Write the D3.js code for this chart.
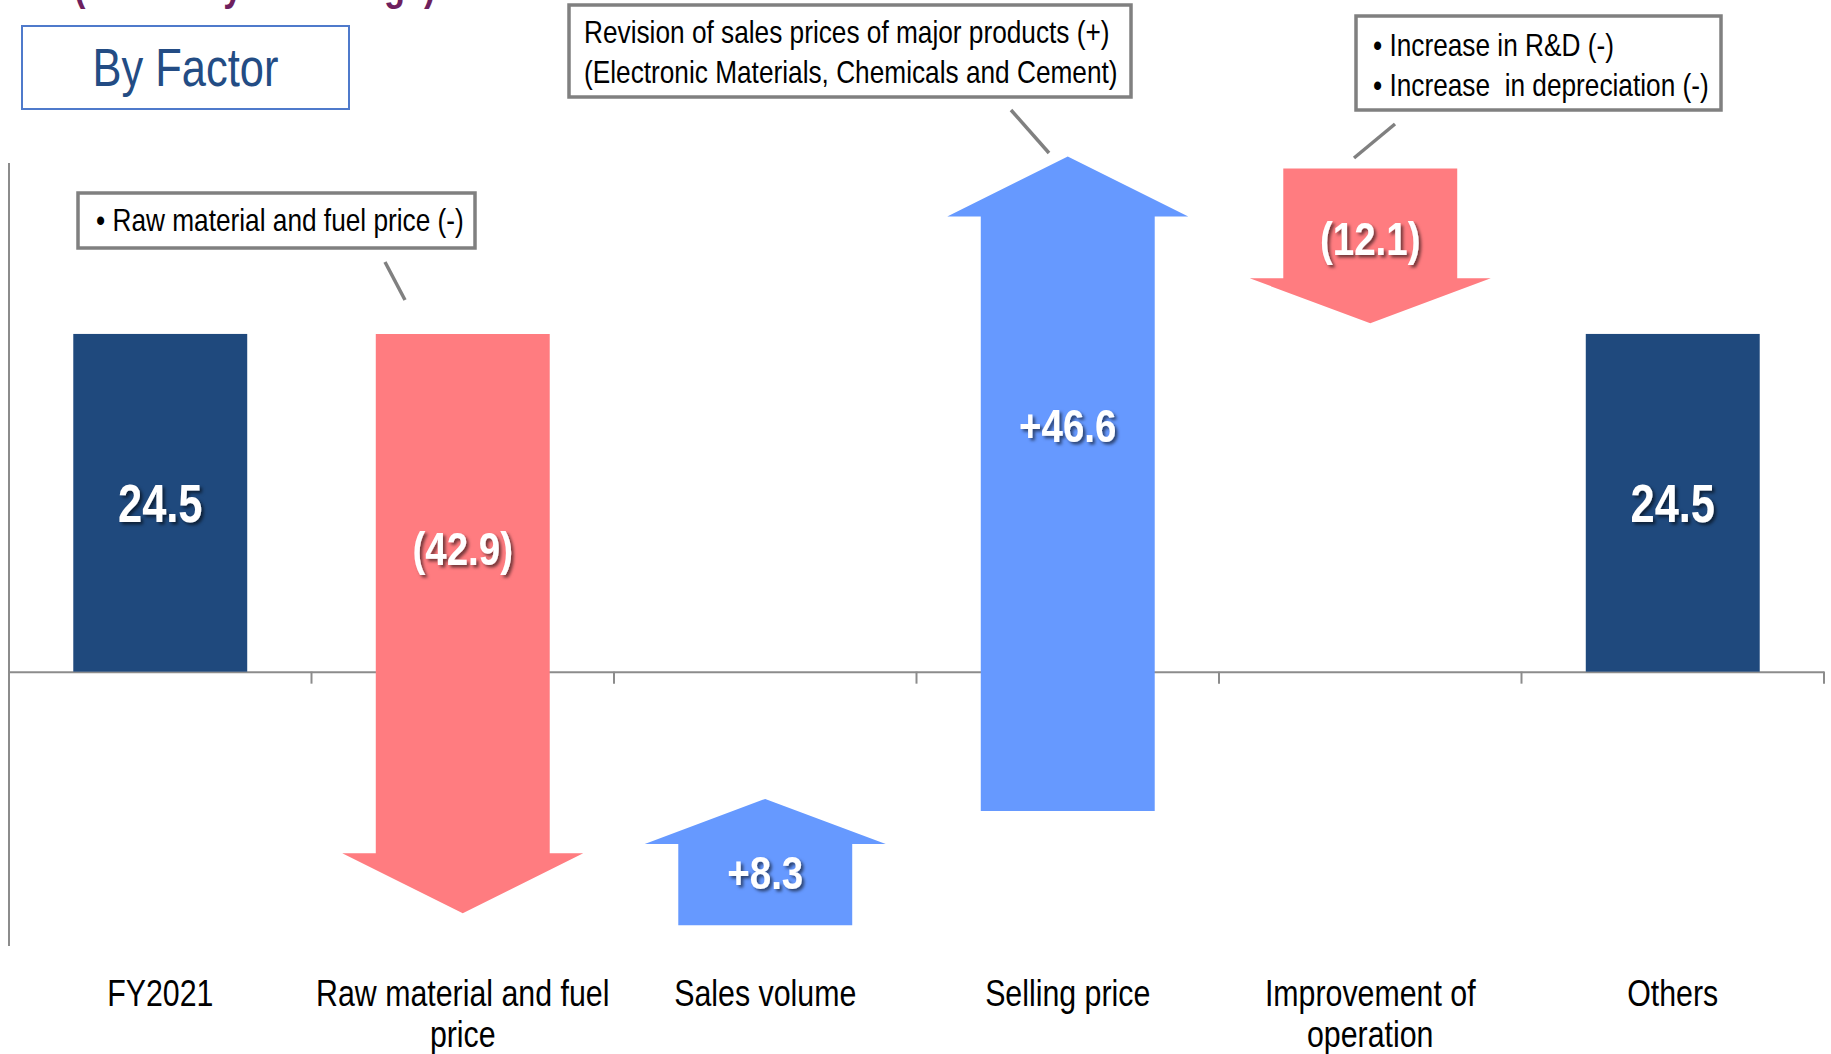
<!DOCTYPE html>
<html>
<head>
<meta charset="utf-8">
<script src="https://cdn.jsdelivr.net/npm/d3@7"></script>
<style>
  html, body { margin: 0; padding: 0; background: #ffffff; }
  svg { display: block; }
  text { white-space: pre; }
</style>
</head>
<body>
<div id="chart"></div>
<script>
// ---------------- DATA ----------------
const categories = ["FY2021", "Raw material and fuel price", "Sales volume", "Selling price", "Improvement of operation", "Others"];
const values = [24.5, -42.9, 8.3, 46.6, -12.1, 24.5];
const kinds = ["total", "delta", "delta", "delta", "delta", "total"];
const valueLabels = ["24.5", "(42.9)", "+8.3", "+46.6", "(12.1)", "24.5"];
const calloutTexts = [
  ["\u2022 Raw material and fuel price (-)"],
  ["Revision of sales prices of major products (+)", "(Electronic Materials, Chemicals and Cement)"],
  ["\u2022 Increase in R&D (-)", "\u2022 Increase  in depreciation (-)"]
];
const panelTitle = "By Factor";
const pageTitleTail = "(Year-on-year change)";

// ---------------- STYLE ----------------
const W = 1831, H = 1054;
const NARROW = 0.82;                  // horizontal condensation (Arial Narrow look)
const FONT = "'Liberation Sans', Arial, sans-serif";
const colNavy = "#1F497D", colUp = "#6699FF", colDown = "#FF7C80";
const axisCol = "#8C8C8C";
const plot = { left: 9, right: 1824, top: 163, bottom: 946 };
const yDomain = [-19.9, 36.9];
const barWidthFrac = 0.575;
const headHalf = 120.5;
const tipOffset = 12;
const labelFrac = [0.5, 0.37, 0.42, 0.59, 0.45, 0.5];
const labelSize = { total: 53, delta: 47 };
const calloutBoxes = [
  { x: 78, y: 193, w: 397, h: 55, tx: 96, ty: [231], line: [385, 262, 405, 300] },
  { x: 569, y: 5, w: 562, h: 92, tx: 584, ty: [43, 83], line: [1011, 110, 1049, 153] },
  { x: 1356, y: 16, w: 365, h: 94, tx: 1373, ty: [56, 96], line: [1395, 124, 1354, 158] }
];

// ---------------- CHART ----------------
const svg = d3.select("#chart").append("svg")
  .attr("width", W).attr("height", H)
  .style("font-family", FONT);

const defs = svg.append("defs");
const f = defs.append("filter").attr("id", "shadow")
  .attr("x", "-20%").attr("y", "-20%").attr("width", "140%").attr("height", "140%");
f.append("feDropShadow").attr("dx", 2.5).attr("dy", 2.5).attr("stdDeviation", 1.6)
  .attr("flood-color", "#000").attr("flood-opacity", 0.55);

const x = d3.scaleBand().domain(categories).range([plot.left, plot.right]).padding(0);
const y = d3.scaleLinear().domain(yDomain).range([plot.bottom, plot.top]);

// running waterfall values
let cum = 0;
const items = categories.map((c, i) => {
  let start, end;
  if (kinds[i] === "total") { start = 0; end = values[i]; cum = values[i]; }
  else { start = cum; end = cum + values[i]; cum = end; }
  return { cat: c, i, kind: kinds[i], v: values[i], start, end, label: valueLabels[i] };
});

// narrow text helper
function ntext(g, tx, ty, str, size, anchor, weight, fill) {
  return g.append("text")
    .attr("transform", `translate(${tx},${ty}) scale(${NARROW},1)`)
    .attr("text-anchor", anchor || "start")
    .attr("font-size", size)
    .attr("font-weight", weight || "normal")
    .attr("fill", fill || "#000")
    .text(str);
}

// cut-off page title (only its lower edge is visible)
ntext(svg, 74, 0, pageTitleTail, 42, "start", "bold", "#6E1F5E");

// axes
const axisG = svg.append("g");
axisG.append("line")
  .attr("x1", plot.left).attr("x2", plot.left)
  .attr("y1", plot.top).attr("y2", plot.bottom)
  .attr("stroke", axisCol).attr("stroke-width", 2);
const xAxis = d3.axisBottom(x).tickSize(0).tickFormat("");
const xg = svg.append("g").attr("transform", `translate(0,${y(0)})`).call(xAxis);
xg.select(".domain").attr("stroke", axisCol).attr("stroke-width", 2);
// category boundary ticks
const bounds = categories.map(c => x(c) + x.bandwidth());
xg.selectAll(".btick").data(bounds).join("line")
  .attr("class", "btick")
  .attr("x1", d => d).attr("x2", d => d)
  .attr("y1", 0).attr("y2", 12)
  .attr("stroke", axisCol).attr("stroke-width", 2);

// marks
const bw = x.bandwidth() * barWidthFrac;
const marks = svg.append("g");
items.forEach(d => {
  const cx = x(d.cat) + x.bandwidth() / 2;
  if (d.kind === "total") {
    marks.append("rect")
      .attr("x", cx - bw / 2).attr("width", bw)
      .attr("y", y(Math.max(d.start, d.end)))
      .attr("height", Math.abs(y(d.start) - y(d.end)))
      .attr("fill", colNavy);
    d.ys = y(d.start); d.ye = y(d.end);
  } else {
    const up = d.v > 0;
    const y0 = y(d.start);
    const tip = y(d.end) - tipOffset;
    const len = Math.abs(tip - y0);
    const head = len > 300 ? 60 : 45;
    const base = up ? tip + head : tip - head;
    const pts = [
      [cx - bw / 2, y0], [cx - bw / 2, base], [cx - headHalf, base],
      [cx, tip], [cx + headHalf, base], [cx + bw / 2, base], [cx + bw / 2, y0]
    ];
    marks.append("path")
      .attr("d", d3.line()(pts) + "Z")
      .attr("fill", up ? colUp : colDown);
    d.ys = y0; d.ye = tip;
  }
});

// value labels
const lbl = svg.append("g").attr("filter", "url(#shadow)");
items.forEach(d => {
  const cx = x(d.cat) + x.bandwidth() / 2;
  const cy = d.ys + (d.ye - d.ys) * labelFrac[d.i];
  const s = labelSize[d.kind];
  ntext(lbl, cx, cy + 0.358 * s, d.label, s, "middle", "bold", "#fff");
});

// category labels with wrapping
const catG = svg.append("g");
items.forEach(d => {
  const cx = x(d.cat) + x.bandwidth() / 2;
  const maxW = x.bandwidth();
  const words = d.cat.split(" ");
  const lines = [];
  let cur = "";
  const probe = svg.append("text").attr("font-size", 37);
  words.forEach(w => {
    const t = cur ? cur + " " + w : w;
    probe.text(t);
    if (probe.node().getComputedTextLength() * NARROW > maxW && cur) { lines.push(cur); cur = w; }
    else cur = t;
  });
  lines.push(cur);
  probe.remove();
  lines.forEach((ln, k) => ntext(catG, cx, 1006 + k * 41, ln, 37, "middle"));
});

// callouts
const cg = svg.append("g");
calloutBoxes.forEach((b, i) => {
  cg.append("line")
    .attr("x1", b.line[0]).attr("y1", b.line[1]).attr("x2", b.line[2]).attr("y2", b.line[3])
    .attr("stroke", "#808080").attr("stroke-width", 3.5);
  cg.append("rect").attr("x", b.x).attr("y", b.y).attr("width", b.w).attr("height", b.h)
    .attr("fill", "#fff").attr("stroke", "#808080").attr("stroke-width", 3.5);
  calloutTexts[i].forEach((t, k) => ntext(cg, b.tx, b.ty[k], t, 32, "start"));
});

// panel title box
svg.append("rect").attr("x", 22).attr("y", 26).attr("width", 327).attr("height", 83)
  .attr("fill", "#fff").attr("stroke", "#4F7ACB").attr("stroke-width", 2);
ntext(svg, 185.5, 86, panelTitle, 53, "middle", "normal", "#234C84");
</script>
</body>
</html>
